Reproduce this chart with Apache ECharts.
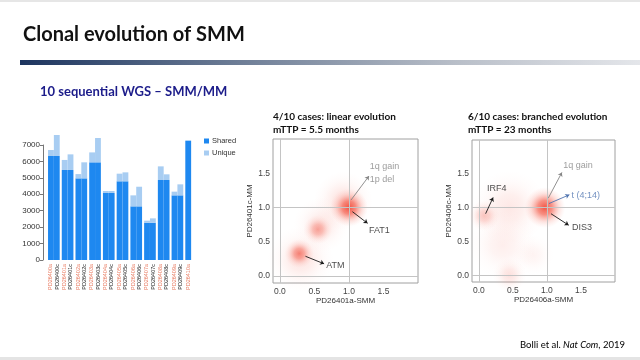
<!DOCTYPE html>
<html><head><meta charset="utf-8">
<script src="https://cdn.jsdelivr.net/npm/echarts@6/dist/echarts.min.js"></script>
<style>html,body{margin:0;padding:0;background:#fff}#c{width:640px;height:360px}</style>
</head><body><div id="c"></div>
<script>
// ---- Bar chart data (mutation counts) ----
const labelsA = ['PD26400a','PD26401a','PD26402a','PD26403a','PD26404a','PD26405a','PD26406a','PD26407a','PD26408a','PD26409a','PD26410a'];
const labelsC = ['PD26400c','PD26401c','PD26402c','PD26403c','PD26404c','PD26405c','PD26406c','PD26407c','PD26408c','PD26409c',''];
const shared  = [6330, 5480, 4970, 5945, 4080, 4790, 3265, 2270, 4870, 3935, 7265];
const uniqueA = [365, 610, 260, 605, 120, 465, 670, 125, 830, 225, 0];
const uniqueC = [1280, 950, 975, 1480, 120, 545, 1195, 265, 345, 670, null];

// ---- CCF density plots: [x, y, intensity, spread(diameter in CCF units)] ----
const blobsLinear = [
  [0.30, 0.25, 0.16, 0.95],
  [0.60, 0.75, 0.14, 0.80],
  [0.92, 1.10, 0.18, 0.85],
  [0.28, 0.33, 0.70, 0.42],
  [0.55, 0.68, 0.50, 0.42],
  [1.00, 1.00, 1.00, 0.55]
];
const blobsBranched = [
  [0.45, 1.00, 0.14, 1.10],
  [0.35, 0.45, 0.10, 1.00],
  [0.45, 0.00, 0.18, 0.50],
  [0.80, 0.30, 0.07, 0.60],
  [0.08, 0.88, 0.34, 0.45],
  [0.97, 1.00, 1.00, 0.60]
];
const ccfTicks = [0, 0.5, 1.0, 1.5];
const refLines = [0, 1];
// arrows: [x1, y1, x2, y2, kind]
const arrowsLinear = [
  [1.03, 1.11, 1.29, 1.46, 'grey'],
  [1.05, 0.94, 1.27, 0.77, 'black'],
  [0.37, 0.29, 0.64, 0.18, 'black']
];
const textsLinear = [
  ['1q gain', 1.30, 1.60, 'grey'],
  ['1p del', 1.30, 1.41, 'grey'],
  ['FAT1', 1.29, 0.67, 'black'],
  ['ATM', 0.67, 0.15, 'black']
];
const arrowsBranched = [
  [1.02, 1.14, 1.22, 1.52, 'grey'],
  [1.03, 1.06, 1.33, 1.19, 'blue'],
  [1.06, 0.91, 1.32, 0.74, 'black'],
  [0.10, 0.91, 0.21, 1.15, 'black']
];
const textsBranched = [
  ['1q gain', 1.24, 1.63, 'grey'],
  ['t (4;14)', 1.36, 1.18, 'blue'],
  ['DIS3', 1.37, 0.70, 'black'],
  ['IRF4', 0.12, 1.28, 'black']
];

const kindColor = {grey:'#858585', black:'#1a1a1a', blue:'#4f74b0'};
const FONT = 'Liberation Sans';
const SLIDE = 'Lato';

const chart = echarts.init(document.getElementById('c'), null, {renderer:'canvas'});

const grids = [
  {left:47, top:145, width:151, height:115},
  {left:273, top:139, width:145, height:144, show:true, borderColor:'#a0a0a0', borderWidth:1},
  {left:472, top:140, width:143, height:142, show:true, borderColor:'#a0a0a0', borderWidth:1}
];

function radial(intensity){
  return new echarts.graphic.RadialGradient(0.5, 0.5, 0.5, [
    {offset:0, color:'rgba(238,45,25,' + intensity + ')'},
    {offset:0.35, color:'rgba(242,70,50,' + (intensity*0.75) + ')'},
    {offset:0.7, color:'rgba(248,130,115,' + (intensity*0.28) + ')'},
    {offset:1, color:'rgba(255,180,170,0)'}
  ]);
}

function ccfAxis(gi, isY, name){
  return {
    type:'value', gridIndex:gi, min:-0.1, max:2.0,
    name:name, nameLocation:'middle', nameGap: isY ? 14 : 11,
    nameTextStyle:{fontFamily:FONT, fontSize:8, color:'#333'},
    axisLine:{show:false}, axisTick:{show:false}, splitLine:{show:false},
    axisLabel:{customValues:ccfTicks, formatter:v=>v.toFixed(1), fontFamily:FONT, fontSize:8.5, color:'#444', margin: isY ? 3 : 4}
  };
}

function ccfSeries(gi, blobs, arrows, texts){
  const ppu = grids[gi].width / 2.1;
  const refData = [];
  refLines.forEach(v => { refData.push({xAxis:v}); refData.push({yAxis:v}); });
  return [
    {type:'scatter', xAxisIndex:gi, yAxisIndex:gi, data:[], z:1, silent:true,
     markLine:{silent:true, symbol:['none','none'], label:{show:false},
       lineStyle:{color:'#c4c4c4', width:1, type:'solid'}, data:refData, animation:false}},
    {type:'scatter', xAxisIndex:gi, yAxisIndex:gi, z:2, silent:true,
     data: blobs.map(b => ({value:[b[0], b[1]], symbolSize: b[3]*ppu, itemStyle:{color: radial(b[2])}}))},
    {type:'scatter', xAxisIndex:gi, yAxisIndex:gi, z:3, silent:true, symbolSize:0,
     data: texts.map(t => ({value:[t[1], t[2]], name:t[0],
       label:{show:true, position:'right', distance:0, formatter:'{b}', fontFamily:FONT, fontSize:9, color:kindColor[t[3]]}})),
     markLine:{silent:true, symbol:['none','arrow'], symbolSize:4, label:{show:false}, animation:false,
       data: arrows.map(a => [
         {coord:[a[0], a[1]], lineStyle:{color:kindColor[a[4]], width:0.9, type:'solid'}},
         {coord:[a[2], a[3]]}
       ])}}
  ];
}

const barColorShared = '#1e88f0';
const barColorUnique = '#a8cdf2';

const option = {
  animation:false,
  backgroundColor:'#fff',
  grid: grids,
  legend:{orient:'vertical', left:199, top:132, itemWidth:5, itemHeight:5, itemGap:4,
    data:['Shared','Unique'], icon:'rect',
    textStyle:{fontFamily:FONT, fontSize:7.5, color:'#333', padding:[0,0,0,-2]}},
  xAxis:[
    {type:'category', gridIndex:0, data:labelsA,
     axisLine:{show:false}, axisTick:{show:false},
     axisLabel:{interval:0, rotate:90, margin:4,
       formatter:(v,i)=>'{a|' + labelsA[i] + '}\n{c|' + (labelsC[i] || ' ') + '}',
       rich:{a:{color:'#e8785e', fontFamily:FONT, fontSize:5.5, lineHeight:6.3},
             c:{color:'#222', fontFamily:FONT, fontSize:5.5, lineHeight:6.3}}}},
    ccfAxis(1, false, 'PD26401a-SMM'),
    ccfAxis(2, false, 'PD26406a-SMM')
  ],
  yAxis:[
    {type:'value', gridIndex:0, min:0, max:7000, interval:1000, offset:4,
     axisLine:{show:true, lineStyle:{color:'#777'}},
     axisTick:{show:true, length:3, lineStyle:{color:'#777'}},
     splitLine:{show:false},
     axisLabel:{fontFamily:FONT, fontSize:8, color:'#333', margin:3, formatter:v=>String(v)}},
    ccfAxis(1, true, 'PD26401c-MM'),
    ccfAxis(2, true, 'PD26406c-MM')
  ],
  series:[
    {type:'bar', name:'Shared', stack:'a', xAxisIndex:0, yAxisIndex:0, data:shared,
     itemStyle:{color:barColorShared}, barGap:'0%', barCategoryGap:'15%', clip:false},
    {type:'bar', name:'Unique', stack:'a', xAxisIndex:0, yAxisIndex:0, data:uniqueA,
     itemStyle:{color:barColorUnique}, barGap:'0%', barCategoryGap:'15%', clip:false},
    {type:'bar', name:'Shared', stack:'c', xAxisIndex:0, yAxisIndex:0,
     data:shared.map((v,i)=> uniqueC[i] == null ? '-' : v),
     itemStyle:{color:barColorShared}, barGap:'0%', barCategoryGap:'15%', clip:false},
    {type:'bar', name:'Unique', stack:'c', xAxisIndex:0, yAxisIndex:0,
     data:uniqueC.map(v => v == null ? '-' : v),
     itemStyle:{color:barColorUnique}, barGap:'0%', barCategoryGap:'15%', clip:false}
  ].concat(ccfSeries(1, blobsLinear, arrowsLinear, textsLinear))
   .concat(ccfSeries(2, blobsBranched, arrowsBranched, textsBranched)),
  graphic:[
    {type:'rect', left:0, top:0, shape:{width:640, height:2}, style:{fill:'#e6e6e6'}, silent:true},
    {type:'rect', left:0, top:357, shape:{width:640, height:3}, style:{fill:'#e4e4e4'}, silent:true},
    {type:'text', left:23, top:25, silent:true,
     style:{text:'Clonal evolution of SMM', font:'bold 20px ' + SLIDE, fill:'#111'}},
    {type:'rect', left:20, top:60, shape:{width:620, height:5}, silent:true,
     style:{fill:new echarts.graphic.LinearGradient(0,0,1,0,[
       {offset:0, color:'#1d355f'}, {offset:0.35, color:'#6d7d96'}, {offset:0.7, color:'#b8bec8'}, {offset:1, color:'#e4e6ea'}])}},
    {type:'text', left:40, top:85, silent:true,
     style:{text:'10 sequential WGS \u2013 SMM/MM', font:'bold 13px ' + SLIDE, fill:'#1c1c8a'}},
    {type:'text', left:273, top:110, silent:true,
     style:{text:'4/10 cases: linear evolution\nmTTP = 5.5 months', font:'bold 10px ' + SLIDE, fill:'#111', lineHeight:13.5}},
    {type:'text', left:468, top:110, silent:true,
     style:{text:'6/10 cases: branched evolution\nmTTP = 23 months', font:'bold 10px ' + SLIDE, fill:'#111', lineHeight:13.5}},
    {type:'text', left:520, top:340, silent:true,
     style:{text:'{n|Bolli et al. }{i|Nat Com}{n|, 2019}',
       rich:{n:{fontFamily:SLIDE, fontSize:9.5, color:'#333'},
             i:{fontFamily:SLIDE, fontSize:9.5, fontStyle:'italic', color:'#333'}}}}
  ]
};
chart.setOption(option);
</script></body></html>
